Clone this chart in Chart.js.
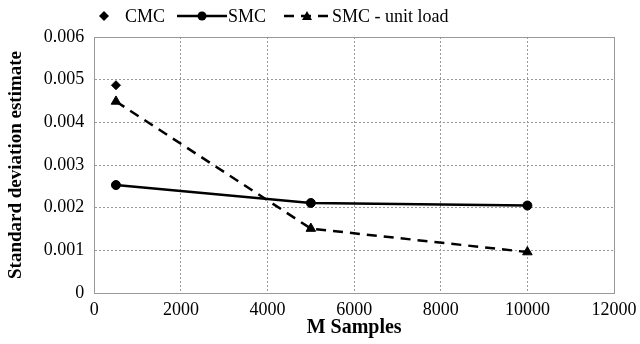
<!DOCTYPE html>
<html>
<head>
<meta charset="utf-8">
<script src="https://cdn.jsdelivr.net/npm/chart.js@4"></script>
<style>
  html, body { margin: 0; padding: 0; background: #fff; }
  #wrap { position: relative; width: 640px; height: 344px; }
  #legend { position: absolute; top: 3px; left: 0; width: 640px; height: 26px;
    font-family: "Liberation Serif", serif; font-size: 18px; color: #000; }
  #legend .item { position: absolute; top: 0; display: flex; align-items: center; height: 26px; }
  #legend svg { display: block; }
</style>
</head>
<body>
<div id="wrap">
  <canvas id="chart" width="640" height="344"></canvas>
  <div id="legend">
    <div class="item" style="left:95px">
      <svg width="18" height="16"><polygon points="9,3 14,8 9,13 4,8" fill="#000"/></svg>
      <span style="margin-left:12px">CMC</span>
    </div>
    <div class="item" style="left:177px">
      <svg width="50" height="16"><line x1="0" y1="8" x2="50" y2="8" stroke="#000" stroke-width="2.5"/><circle cx="25" cy="8" r="4.5" fill="#000"/></svg>
      <span style="margin-left:1px">SMC</span>
    </div>
    <div class="item" style="left:284px">
      <svg width="46" height="16"><line x1="0" y1="8" x2="46" y2="8" stroke="#000" stroke-width="2.5" stroke-dasharray="10,7"/><polygon points="23,3 28,12 18,12" fill="#000"/></svg>
      <span style="margin-left:2px">SMC - unit load</span>
    </div>
  </div>
</div>
<script>
const xTicks = [0, 2000, 4000, 6000, 8000, 10000, 12000];
const yTicks = [0, 0.001, 0.002, 0.003, 0.004, 0.005, 0.006];

const cmcSamples = [500];
const cmcValues = [0.00487];

const smcSamples = [500, 5000, 10000];
const smcValues = [0.00253, 0.00211, 0.00205];

const unitSamples = [500, 5000, 10000];
const unitValues = [0.00449, 0.00151, 0.00096];

const pts = (xs, ys) => xs.map((x, i) => ({ x, y: ys[i] }));

const FONT = '"Liberation Serif", serif';
Chart.defaults.font.family = FONT;
Chart.defaults.color = '#000';

const frame = {
  id: 'frame',
  beforeDatasetsDraw(chart) {
    const { ctx, chartArea: a } = chart;
    ctx.save();
    ctx.strokeStyle = '#999';
    ctx.lineWidth = 1;
    ctx.strokeRect(Math.round(a.left) + 0.5, Math.round(a.top) + 0.5,
      Math.round(a.right - a.left), Math.round(a.bottom - a.top));
    ctx.restore();
  },
};

new Chart(document.getElementById('chart').getContext('2d'), {
  type: 'scatter',
  data: {
    datasets: [
      {
        label: 'CMC',
        data: pts(cmcSamples, cmcValues),
        showLine: false,
        pointStyle: 'rectRot',
        pointRadius: 4.5,
        pointBorderWidth: 1,
        backgroundColor: '#000',
        borderColor: '#000',
      },
      {
        label: 'SMC',
        data: pts(smcSamples, smcValues),
        showLine: true,
        borderColor: '#000',
        backgroundColor: '#000',
        borderWidth: 2.5,
        pointStyle: 'circle',
        pointRadius: 4.5,
        pointBorderWidth: 1,
      },
      {
        label: 'SMC - unit load',
        data: pts(unitSamples, unitValues),
        showLine: true,
        borderColor: '#000',
        backgroundColor: '#000',
        borderWidth: 2.5,
        borderDash: [10, 7],
        pointStyle: 'triangle',
        pointRadius: 5.5,
        pointBorderWidth: 1,
      },
    ],
  },
  options: {
    responsive: false,
    animation: false,
    layout: { padding: { top: 37, right: 26, left: 5, bottom: 6 } },
    plugins: { legend: { display: false }, tooltip: { enabled: false } },
    scales: {
      x: {
        type: 'linear',
        min: xTicks[0],
        max: xTicks[xTicks.length - 1],
        afterBuildTicks: s => { s.ticks = xTicks.map(v => ({ value: v })); },
        // last label may overflow into the page margin, like the original
        afterFit: s => { s.paddingRight = 0; },
        ticks: { color: '#000', font: { family: FONT, size: 18, lineHeight: 1 }, padding: 8,
          maxRotation: 0, callback: v => String(v) },
        grid: { color: '#999', drawTicks: false },
        border: { color: '#999', dash: [2, 2] },
        title: { display: true, text: 'M Samples', color: '#000',
          font: { family: FONT, size: 20, weight: 'bold', lineHeight: 1 }, padding: { top: -9, bottom: 0 } },
      },
      y: {
        min: yTicks[0],
        max: yTicks[yTicks.length - 1],
        afterBuildTicks: s => { s.ticks = yTicks.map(v => ({ value: v })); },
        ticks: { color: '#000', font: { family: FONT, size: 18 }, padding: 10,
          callback: v => v === 0 ? '0' : v.toFixed(3) },
        grid: { color: '#999', drawTicks: false },
        border: { color: '#999', dash: [2, 2] },
        title: { display: true, text: 'Standard deviation estimate', color: '#000',
          font: { family: FONT, size: 19, weight: 'bold' }, padding: { top: 0, bottom: 6 } },
      },
    },
  },
  plugins: [frame],
});
</script>
</body>
</html>
